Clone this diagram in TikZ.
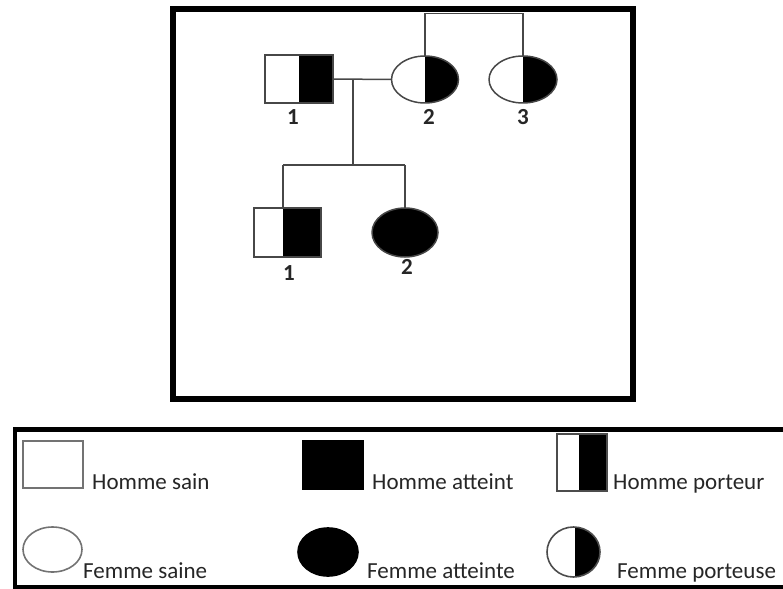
\documentclass[tikz,border=0pt]{standalone}
\usepackage{fontspec}
\setmainfont{Carlito}
\usetikzlibrary{shapes.geometric}
\begin{document}
\begin{tikzpicture}[x=1pt,y=-1pt,
  ln/.style={draw=black!72, line width=1.5pt},
  frame/.style={draw=black, line width=6pt},
  sym/.style={draw=black!72, line width=1.5pt, inner sep=0pt, outer sep=0pt},
  lsym/.style={draw=black!55, line width=1.6pt, inner sep=0pt, outer sep=0pt},
  sqr/.style={rectangle},
  ell/.style={ellipse},
  half/.style={path picture={\fill[black] ([xshift=#1pt]path picture bounding box.north west) rectangle (path picture bounding box.south east);}},
  num/.style={font=\bfseries\fontsize{23}{25}\selectfont, text=black!85, inner sep=0pt},
  leg/.style={font=\fontsize{23}{26}\selectfont, text=black!85, inner sep=0pt, anchor=base west}
]
\useasboundingbox (0,0) rectangle (783,588);
\begin{scope}
\clip (0,0) rectangle (783,588);
% frames
\draw[frame] (173,9) rectangle (633,399);
\draw[draw=black, line width=4.5pt] (15,429.5) rectangle (800,587);

% generation I
\node[sym, sqr, minimum width=68pt, minimum height=48pt, half=34] (m1) at (299,79) {};
\node[sym, ell, minimum width=67pt, minimum height=47pt, half=33.5] (f2) at (425,79.5) {};
\node[sym, ell, minimum width=68pt, minimum height=47pt, half=34] (f3) at (523,79.5) {};
\node[num] (l1) at (293,117) {1};
\node[num] (l2) at (429,117) {2};
\node[num] (l3) at (523,117) {3};

% generation II
\node[sym, sqr, minimum width=67pt, minimum height=49pt, half=29] (c1) at (287.5,232.5) {};
\node[sym, ell, fill=black, minimum width=66pt, minimum height=49pt] (c2) at (405,232.5) {};
\node[num] (l4) at (289,273) {1};
\node[num] (l5) at (407,267) {2};

% connectors
\coordinate (mate) at (353,79.5);
\coordinate (sib) at (353,165);
\coordinate (sibL) at (283,165);
\coordinate (sibR) at (405,165);
\coordinate (topL) at (425,13.5);
\coordinate (topR) at (523,13.5);
\draw[ln] (m1.east) -- (f2.west);
\draw[ln] (mate) -- (sib);
\draw[ln] (sibL) -- (sibR);
\draw[ln] (sibL) -- (sibL |- c1.north);
\draw[ln] (sibR) -- (c2.north);
\draw[ln] (f2.north) -- (topL) -- (topR) -- (f3.north);

% legend
\node[lsym, sqr, minimum width=60pt, minimum height=47pt] (k1) at (53,464.5) {};
\node[lsym, sqr, fill=black, draw=black, minimum width=60pt, minimum height=48pt] (k2) at (333,465) {};
\node[lsym, sqr, draw=black!70, minimum width=50pt, minimum height=57pt, half=22] (k3) at (582,462.5) {};
\node[lsym, ell, minimum width=59pt, minimum height=45pt] (k4) at (52.5,549.5) {};
\node[lsym, ell, fill=black, draw=black, minimum width=60pt, minimum height=48pt] (k5) at (328,552) {};
\node[lsym, ell, draw=black!70, minimum width=53pt, minimum height=50pt, half=28] (k6) at (573.5,552) {};

\node[leg] (t1) at (92,489) {Homme sain};
\node[leg] (t2) at (372,489) {Homme atteint};
\node[leg] (t3) at (613,489) {Homme porteur};
\node[leg] (t4) at (83,578) {Femme saine};
\node[leg] (t5) at (367,578) {Femme atteinte};
\node[leg] (t6) at (617,578) {Femme porteuse};
\end{scope}
\end{tikzpicture}
\end{document}
